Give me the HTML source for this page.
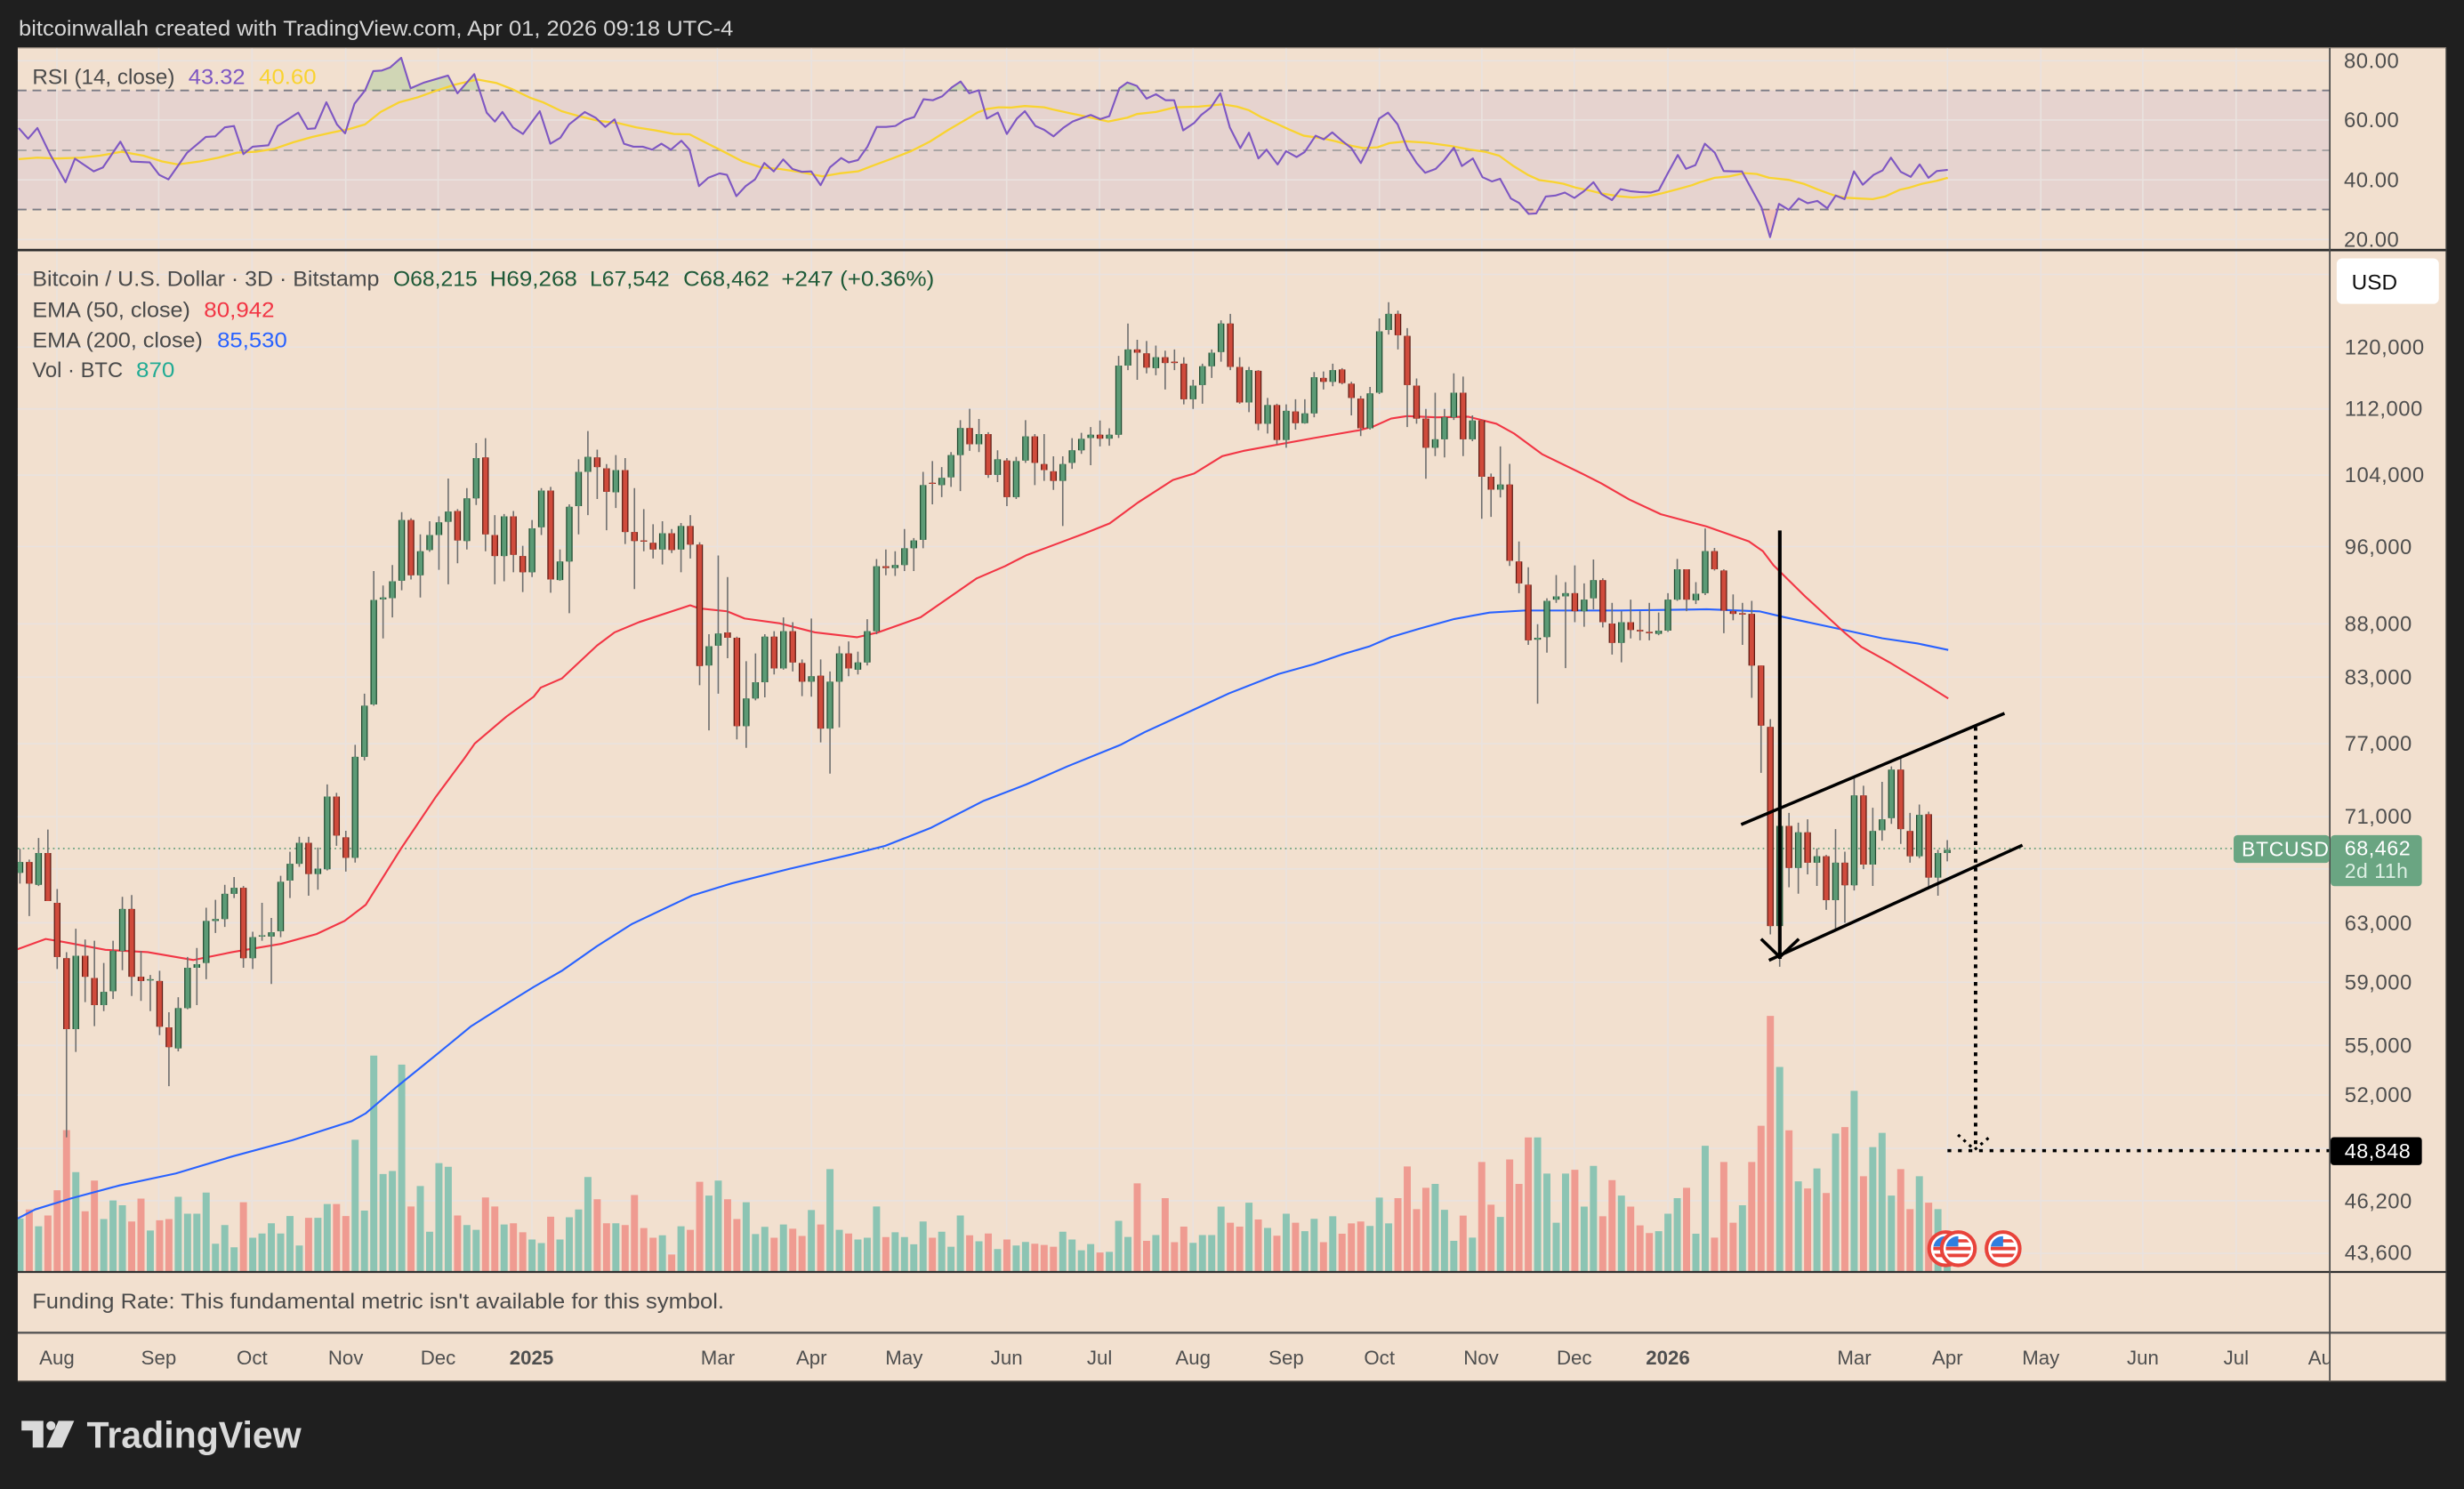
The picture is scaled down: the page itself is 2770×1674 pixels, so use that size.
<!DOCTYPE html>
<html>
<head>
<meta charset="utf-8">
<style>
html,body{margin:0;padding:0;background:#1f1f1f;overflow:hidden;}
svg{display:block;}
</style>
</head>
<body>
<svg width="2770" height="1674" viewBox="0 0 1568 948" preserveAspectRatio="none" xmlns="http://www.w3.org/2000/svg" style="font-family:'Liberation Sans',Arial,sans-serif;">
<defs>
  <clipPath id="pp"><rect x="11.3" y="159.8" width="1471.3" height="649.7"/></clipPath>
  <clipPath id="rp"><rect x="11.3" y="30.5" width="1471.3" height="128.5"/></clipPath>
  <clipPath id="ob"><rect x="11.3" y="30.5" width="1471.3" height="27.1"/></clipPath>
  <clipPath id="os"><rect x="11.3" y="133.4" width="1471.3" height="25.6"/></clipPath>
  <clipPath id="ta"><rect x="11.3" y="849" width="1471.3" height="30"/></clipPath>
  <clipPath id="fc"><circle cx="0" cy="0" r="8"/></clipPath>
  <symbol id="flag" overflow="visible">
    <circle cx="0" cy="0" r="10.6" fill="#ffffff" stroke="#e8433b" stroke-width="2.3"/>
    <g clip-path="url(#fc)">
      <rect x="-8" y="-8" width="16" height="16" fill="#ffffff"/>
      <rect x="-8" y="-1.2" width="16" height="2.2" fill="#e8433b"/>
      <rect x="-8" y="3.2" width="16" height="2.2" fill="#e8433b"/>
      <rect x="-8" y="-6" width="16" height="2" fill="#e8433b"/>
      <rect x="-8" y="-8" width="8" height="6.6" fill="#2f7fe0"/>
    </g>
  </symbol>
</defs>

<rect x="0" y="0" width="1568" height="948" fill="#1f1f1f"/>
<text x="11.9" y="22.7" font-size="13.5" fill="#d6d6d6" textLength="454.7" lengthAdjust="spacingAndGlyphs">bitcoinwallah created with TradingView.com, Apr 01, 2026 09:18 UTC-4</text>

<rect x="11.3" y="30.2" width="1545.4" height="849.1" fill="#f2e0cf"/>
<line x1="11.3" y1="30.4" x2="1556.7" y2="30.4" stroke="#8a7f74" stroke-width="0.8"/>

<rect x="11.3" y="57.6" width="1471.3" height="75.8" fill="#e6d3cf"/>

<!-- grid -->
<g stroke="#e9e2df" stroke-width="0.9">
  <line x1="36.2" y1="30.8" x2="36.2" y2="809.2"/>
  <line x1="101" y1="30.8" x2="101" y2="809.2"/>
  <line x1="160.4" y1="30.8" x2="160.4" y2="809.2"/>
  <line x1="220" y1="30.8" x2="220" y2="809.2"/>
  <line x1="278.8" y1="30.8" x2="278.8" y2="809.2"/>
  <line x1="338.5" y1="30.8" x2="338.5" y2="809.2"/>
  <line x1="456.5" y1="30.8" x2="456.5" y2="809.2"/>
  <line x1="516.4" y1="30.8" x2="516.4" y2="809.2"/>
  <line x1="575.3" y1="30.8" x2="575.3" y2="809.2"/>
  <line x1="640.6" y1="30.8" x2="640.6" y2="809.2"/>
  <line x1="699.7" y1="30.8" x2="699.7" y2="809.2"/>
  <line x1="759.2" y1="30.8" x2="759.2" y2="809.2"/>
  <line x1="818.5" y1="30.8" x2="818.5" y2="809.2"/>
  <line x1="877.8" y1="30.8" x2="877.8" y2="809.2"/>
  <line x1="943" y1="30.8" x2="943" y2="809.2"/>
  <line x1="1001.8" y1="30.8" x2="1001.8" y2="809.2"/>
  <line x1="1061.4" y1="30.8" x2="1061.4" y2="809.2"/>
  <line x1="1180" y1="30.8" x2="1180" y2="809.2"/>
  <line x1="1239.3" y1="30.8" x2="1239.3" y2="809.2"/>
  <line x1="1298.7" y1="30.8" x2="1298.7" y2="809.2"/>
  <line x1="1363.6" y1="30.8" x2="1363.6" y2="809.2"/>
  <line x1="1423" y1="30.8" x2="1423" y2="809.2"/>
  <line x1="11.3" y1="38.7" x2="1482.6" y2="38.7"/>
  <line x1="11.3" y1="76.4" x2="1482.6" y2="76.4"/>
  <line x1="11.3" y1="114.5" x2="1482.6" y2="114.5"/>
  <line x1="11.3" y1="152.5" x2="1482.6" y2="152.5"/>
  <line x1="11.3" y1="174.7" x2="1482.6" y2="174.7"/>
  <line x1="11.3" y1="221" x2="1482.6" y2="221"/>
  <line x1="11.3" y1="260.3" x2="1482.6" y2="260.3"/>
  <line x1="11.3" y1="302.5" x2="1482.6" y2="302.5"/>
  <line x1="11.3" y1="348" x2="1482.6" y2="348"/>
  <line x1="11.3" y1="397.2" x2="1482.6" y2="397.2"/>
  <line x1="11.3" y1="431.1" x2="1482.6" y2="431.1"/>
  <line x1="11.3" y1="473.5" x2="1482.6" y2="473.5"/>
  <line x1="11.3" y1="520" x2="1482.6" y2="520"/>
  <line x1="11.3" y1="553.2" x2="1482.6" y2="553.2"/>
  <line x1="11.3" y1="587.5" x2="1482.6" y2="587.5"/>
  <line x1="11.3" y1="625.4" x2="1482.6" y2="625.4"/>
  <line x1="11.3" y1="665.6" x2="1482.6" y2="665.6"/>
  <line x1="11.3" y1="697.2" x2="1482.6" y2="697.2"/>
  <line x1="11.3" y1="731.2" x2="1482.6" y2="731.2"/>
  <line x1="11.3" y1="764.5" x2="1482.6" y2="764.5"/>
  <line x1="11.3" y1="798" x2="1482.6" y2="798"/>
</g>

<line x1="11.3" y1="57.6" x2="1482.6" y2="57.6" stroke="#7b7b85" stroke-width="1.1" stroke-dasharray="5.6 3.8"/>
<line x1="11.3" y1="95.7" x2="1482.6" y2="95.7" stroke="#a9a5a5" stroke-width="1.1" stroke-dasharray="5.6 3.8"/>
<line x1="11.3" y1="133.4" x2="1482.6" y2="133.4" stroke="#7b7b85" stroke-width="1.1" stroke-dasharray="5.6 3.8"/>

<g clip-path="url(#rp)">
  <g clip-path="url(#ob)" fill="rgba(76,175,80,0.2)">
    <polygon points="225.6,66 232.3,57.6 237.5,45.3 243,44.9 248.2,43 255.3,36.8 261.3,56.2 270,52.5 285.1,48.1 291.1,59.4 301.8,47.2 309.7,71.7 309.7,57.6 225.6,57.6"/>
    <polygon points="599.6,61.3 605.6,55.7 611.3,51.9 616.8,59.4 622.8,57.5 628,75.5 628,57.6 599.6,57.6"/>
    <polygon points="705.9,74 712.3,56.2 717.4,52.5 723.5,54.7 729.6,62.8 729.6,57.6 705.9,57.6"/>
  </g>
  <g clip-path="url(#os)" fill="rgba(242,54,69,0.16)">
    <polygon points="1108.5,109.1 1121,132.1 1126.4,151 1132.1,129.8 1138.3,133.6 1144.6,126.4 1144.6,133.4 1108.5,133.4"/>
    <polygon points="966.7,129.2 972.8,136.2 977.6,135.9 983.7,125.1 983.7,133.4 966.7,133.4"/>
  </g>
  <polyline fill="none" stroke="#f9d330" stroke-width="1.3" stroke-linejoin="round" points="11.9,101.3 23.8,100.4 35.7,100.9 51.6,100.4 63.5,99.1 77.4,96.6 91.3,99.1 103.2,102.8 113.2,104.7 127.1,102.8 139,100.4 150.9,97.2 162.8,96.6 174.7,94.7 186.6,90.6 198.6,87.2 210.5,84.5 222.4,82.1 232.3,79.2 242.2,71.3 254.1,65.1 266,61.9 278,57.6 289.9,53.8 303.8,50.6 315.7,52.8 325.6,56.6 337.5,62.3 345.5,65.1 357.4,70.8 369.3,74.2 381.2,77 393.1,78.3 405,81.1 417,83 428.9,85.3 438.8,85.5 448.7,90.6 460.6,96.6 472.5,102.8 484.5,106.6 496.4,107.6 508.3,109.4 523.4,112.3 534.1,110.4 546,109.1 555.9,105.3 567.8,100.9 579.8,96.2 591.7,90.2 603.6,82.6 615.8,75.5 621.9,71.7 628,69.4 635.6,68.3 643.1,68.5 652.2,67.5 664.4,68.3 670.4,69.8 681.1,72.1 690.1,74 699.2,76 705.3,77.4 717.4,74.9 723.5,72.6 735.6,71.3 747.8,68.3 762.9,67.9 778.1,66.4 787.2,67.9 794.8,70.2 802.4,74.5 811.4,78.3 820.5,82.5 829.6,86.4 841.8,88.1 850.9,90.2 860,92.8 867.5,94.3 876.6,93.8 884.2,91.1 894.8,90 908.5,90.9 923.7,93 935.8,95.3 944.9,96.6 954,99.1 963.1,105.7 972.2,111.3 979.7,114.7 987.3,115.7 994.9,117 1002.5,119.4 1011.6,121.3 1019.2,123.2 1029.8,124.9 1038.9,125.7 1048,125.1 1057.1,123.2 1067.7,120.4 1076.8,117.9 1081.8,116 1091.2,113.2 1100.6,112.3 1110.1,110.2 1117.9,110.8 1125.8,113.2 1138.3,114.5 1147.7,117 1157.2,120.8 1166.6,124.2 1174.4,125.9 1183.9,126.4 1191.7,126.8 1199.6,125.1 1209,120.8 1215.3,119.4 1223.1,117 1232.5,115.1 1239.5,113.2"/>
  <polyline fill="none" stroke="#7e57c2" stroke-width="1.2" stroke-linejoin="round" points="11.9,81.5 17.9,88.3 23.8,81.5 31.8,98.1 41.7,116 47.7,101 59.6,109.1 65.5,106.6 76.6,90.2 83.4,102.8 95.3,103.4 101.3,111.3 107.2,114.2 119.1,97.2 131,87.2 137,86.8 143,81.1 148.9,80.2 154.9,98.1 160.8,93.4 170.8,92.5 176.7,80.2 189.8,71.7 195.8,82.1 200.5,81.7 207.7,65.1 214.4,79.2 219.6,84.9 225.6,66 232.3,57.6 237.5,45.3 243,44.9 248.2,43 255.3,36.8 261.3,56.2 270,52.5 285.1,48.1 291.1,59.4 301.8,47.2 309.7,71.7 314.9,77.4 319.7,71.3 326.4,81.1 332.8,85.3 343.5,70.8 350.2,91.5 356.6,87.7 362.2,79.2 372.1,71.3 379.2,75.1 385.2,80.8 391.1,76 397.1,91.5 403.1,93.4 409,93.4 415,95.3 420.9,91.5 426.9,95.3 433.6,89.6 438.8,95.3 444.8,118.5 450.7,113.2 457.9,110.4 462.6,111.3 468.6,124.9 474.5,118.5 480.5,114.2 486.4,103.8 492.4,109.1 498.4,101.5 504.3,107.6 510.3,109.4 516.2,109.1 522.2,117.9 528.1,106.6 535.3,100.6 540.1,103.4 546,101.9 552,93.4 557.9,80.8 563.9,80.8 569.8,80.2 575.8,76.4 581.8,74.5 587.7,63.2 593.7,63.8 599.6,61.3 605.6,55.7 611.3,51.9 616.8,59.4 622.8,57.5 628,75.5 635,71.7 640.7,85.3 647.1,75.5 652.2,70.8 658.9,80.2 664.4,82.6 670.4,86.8 676.5,81.5 682.6,77.4 688.6,75.1 694.1,73.2 700.2,75.8 705.9,74 712.3,56.2 717.4,52.5 723.5,54.7 729.6,62.8 735.6,60 741.7,63.8 747.2,63.8 752.9,83 759.9,78.3 764.4,73.2 770.5,68.5 776.6,59.4 782.6,81.1 789.3,94.3 794.8,84.5 800.8,100.9 806,95.3 813,104.7 818.4,96.2 825.1,100 830.2,96.8 837.2,86.4 842.4,88.7 847.8,84.3 853.9,89.6 860,94.3 866,103.8 871.5,92.5 877.6,75.5 883.3,71.7 889.4,79.2 895.5,94.3 901.5,103.8 906.9,110 913.6,107.5 919.1,101.9 925.2,94 930.3,105.7 937.3,100.9 943.4,112.8 949.4,115.5 954.6,113.8 961.5,126.4 966.7,129.2 972.8,136.2 977.6,135.9 983.7,125.1 989.8,124.5 995.8,122.6 1001.9,126 1008,121.7 1014,116 1019.2,123.6 1025.8,127.4 1031.3,120.4 1037.4,121.7 1043.4,122.3 1050.4,122.6 1055.6,121.1 1061.6,109.8 1067.7,98.7 1072.9,107.5 1078.9,105.1 1084.9,91.5 1091.2,97.2 1096.9,108.9 1103.8,109.1 1108.5,109.1 1121,132.1 1126.4,151 1132.1,129.8 1138.3,133.6 1144.6,126.4 1150.3,129.4 1156.5,127.9 1162.8,132.6 1168.2,124.5 1173.8,126.8 1179.8,109.1 1185.4,117.6 1192.3,111.3 1198,108.5 1203.3,100.4 1209.6,109.4 1215.9,112.6 1221.6,104.7 1227.2,113.2 1232.5,108.9 1239.5,108.1"/>
</g>

<text x="20.6" y="53.4" font-size="13.5" fill="#4a4a4a" textLength="90.6" lengthAdjust="spacingAndGlyphs">RSI (14, close)</text>
<text x="119.9" y="53.4" font-size="13.5" fill="#7e57c2" textLength="36.1" lengthAdjust="spacingAndGlyphs">43.32</text>
<text x="164.8" y="53.4" font-size="13.5" fill="#f9d330" textLength="36.5" lengthAdjust="spacingAndGlyphs">40.60</text>

<line x1="11.3" y1="159.2" x2="1556.7" y2="159.2" stroke="#2c2c2c" stroke-width="1.6"/>

<!-- price pane -->
<g clip-path="url(#pp)">
  <!-- volume A -->
  <g transform="translate(6.775,215.1) scale(5.925,0.3827)" fill="none" stroke-width="0.76">
    <path stroke="#8cc4b3" d="M1 1553V1465M3 1553V1478M7 1553V1388M10 1553V1466M11 1553V1435M12 1553V1443M15 1553V1485M18 1553V1429M19 1553V1457M20 1553V1457M21 1553V1422M22 1553V1507M23 1553V1476M24 1553V1513M26 1553V1497M27 1553V1490M28 1553V1473M29 1553V1490M30 1553V1461M31 1553V1510M33 1553V1464M34 1553V1441M37 1553V1334M38 1553V1452M39 1553V1194M40 1553V1391M41 1553V1386M42 1553V1209M44 1553V1411M45 1553V1487M46 1553V1373M47 1553V1379M49 1553V1476M50 1553V1484M53 1553V1475M56 1553V1500M57 1553V1506M59 1553V1500M60 1553V1463M61 1553V1450M62 1553V1396M65 1553V1473M70 1553V1493M72 1553V1478M75 1553V1427M76 1553V1402M79 1553V1438M80 1553V1491M81 1553V1479M83 1553V1475M86 1553V1451M88 1553V1383M89 1553V1484M91 1553V1500M92 1553V1497M93 1553V1445M95 1553V1488M96 1553V1496M97 1553V1508M98 1553V1470M100 1553V1487M101 1553V1512M102 1553V1460M104 1553V1503M106 1553V1516M108 1553V1510M109 1553V1504M113 1553V1487M114 1553V1500M115 1553V1518"/>
    <path stroke="#ef9b91" d="M2 1553V1450M4 1553V1460M5 1553V1418M6 1553V1318M8 1553V1453M9 1553V1402M13 1553V1470M14 1553V1432M16 1553V1468M17 1553V1466M25 1553V1438M32 1553V1464M35 1553V1441M36 1553V1461M43 1553V1445M48 1553V1460M51 1553V1430M52 1553V1445M54 1553V1473M55 1553V1488M58 1553V1462M63 1553V1433M64 1553V1473M66 1553V1476M67 1553V1426M68 1553V1481M69 1553V1497M71 1553V1525M73 1553V1484M74 1553V1404M77 1553V1433M78 1553V1466M82 1553V1497M84 1553V1482M85 1553V1494M87 1553V1475M90 1553V1490M94 1553V1496M99 1553V1497M103 1553V1493M105 1553V1490M107 1553V1500M110 1553V1507M111 1553V1509M112 1553V1512"/>
  </g>
  <!-- volume B -->
  <g transform="translate(6.775,169.8) scale(5.925,0.41155)" fill="none" stroke-width="0.76">
    <path stroke="#8cc4b3" d="M116 1554V1512M118 1554V1524M119 1554V1476M120 1554V1501M123 1554V1498M127 1554V1510M128 1554V1498M129 1554V1498M130 1554V1454M133 1554V1448M135 1554V1487M137 1554V1465M139 1554V1492M140 1554V1473M142 1554V1469M146 1554V1484M147 1554V1440M148 1554V1480M153 1554V1419M154 1554V1459M155 1554V1507M157 1554V1502M160 1554V1470M164 1554V1347M165 1554V1403M166 1554V1479M167 1554V1403M169 1554V1454M170 1554V1391M173 1554V1437M177 1554V1492M178 1554V1465M179 1554V1441M181 1554V1496M182 1554V1360M186 1554V1452M190 1554V1238M192 1554V1415M194 1554V1395M196 1554V1341M198 1554V1275M200 1554V1362M201 1554V1340M202 1554V1437M205 1554V1407M207 1554V1458M208 1554V1500"/>
    <path stroke="#ef9b91" d="M117 1554V1525M121 1554V1418M122 1554V1507M124 1554V1441M125 1554V1509M126 1554V1485M131 1554V1479M132 1554V1485M134 1554V1474M136 1554V1499M138 1554V1479M141 1554V1509M143 1554V1496M144 1554V1480M145 1554V1477M149 1554V1441M150 1554V1392M151 1554V1458M152 1554V1425M156 1554V1468M158 1554V1385M159 1554V1451M161 1554V1381M162 1554V1419M163 1554V1347M168 1554V1397M171 1554V1469M172 1554V1413M174 1554V1454M175 1554V1483M176 1554V1495M180 1554V1425M183 1554V1502M184 1554V1385M185 1554V1479M187 1554V1385M188 1554V1329M189 1554V1159M191 1554V1336M193 1554V1426M195 1554V1433M197 1554V1331M199 1554V1407M203 1554V1396M204 1554V1458M206 1554V1448"/>
  </g>

  <line x1="11.3" y1="540.2" x2="1421" y2="540.2" stroke="#5c9c77" stroke-width="0.9" stroke-dasharray="1 2.2"/>
  <polyline fill="none" stroke="#2962ff" stroke-width="1.2" stroke-linejoin="round" points="11.2,775.8 22.4,770 44.8,763.1 76.1,754.7 111.9,747.1 147.7,736.3 185.8,726 223.8,713.8 232.8,708.8 252.9,691.6 277.5,671.7 299.9,653.3 322.3,639.1 339.6,628.4 357.5,618.1 379.9,602.4 402.3,588.2 440.3,570.2 464.9,562.6 503,553 541,544.2 563.4,538.5 592.5,527 626.1,509.8 652.9,499.5 679.3,487.9 712.9,474.3 728.5,466.1 759.9,451.7 782.2,441.4 813.6,429.1 836,422.9 853.9,416.7 871.8,411.4 885.2,405.6 903.1,400.3 925.5,394.1 947.9,390 970.2,388.7 1030.2,388.7 1086,387.9 1119.6,389.2 1135.3,392.9 1175.6,401.5 1197.9,406.4 1220.3,409.7 1239.8,413.8"/>
  <polyline fill="none" stroke="#f23645" stroke-width="1.2" stroke-linejoin="round" points="11.2,604.3 29.1,597.8 40.3,599.7 67.1,604.7 94,606.2 123.1,611.2 147.7,606.2 179,600.9 201.4,594.7 219.3,586.3 232.8,576 255.1,540.4 277.5,507.1 295.4,483 302.1,473.4 322.3,456.2 339.6,443.6 344.1,437.8 357.5,432 379.9,411 391.1,402.6 406.7,396.1 439.2,385.4 444.8,387.3 462.7,389.2 473.9,393.8 496.3,396.9 518.6,402.6 545.5,405.7 558.9,402.6 585.8,393 621.6,368.2 639.5,360.5 652.9,353.6 675.3,345.2 690.5,339.5 706.2,333.2 724.1,320 746.4,305.6 759.9,301.5 777.8,290.4 791.2,287.1 813.6,283 836,278.9 865.1,273.9 874,271.5 885.2,266.5 895.3,264.9 914.3,265.7 934.4,265.3 952.3,269.8 963.5,276 981.4,289.2 1008.3,302.3 1018.9,307.7 1036.8,318 1056.9,327.4 1086,335.2 1112.9,344.7 1121.8,350.9 1128.6,359.9 1148.7,379.7 1173.3,402.3 1184.5,411.8 1202.4,421.7 1224.8,435.3 1239.8,444.7"/>

  <!-- candles A -->
  <g transform="translate(6.775,215.1) scale(5.925,0.3827)" fill="none">
    <path stroke="#6e6e6e" stroke-width="0.152" d="M1 850V908M2 868V962M3 832V912M4 818V937M5 917V1050M6 1022V1330M7 983V1188M8 1001V1105M9 1003V1145M10 1040V1120M11 1003V1100M12 930V1052M13 927V1095M14 1020V1103M15 1060V1120M16 1053V1160M17 1122V1245M18 1097V1187M19 1030V1117M20 1015V1110M21 948V1067M22 935V990M23 910V980M24 897V932M25 912V1048M26 988V1050M27 940V1003M28 965V1075M29 895V997M30 855V932M31 830V880M32 830V928M33 848V918M34 743V886M35 757V845M36 820V888M37 677V873M38 592V703M39 388V612M40 412V500M41 378V465M42 290V420M43 300V402M44 327V432M45 305V356M46 297V386M47 234V410M48 285V375M49 250V352M50 175V278M51 167V355M52 295V410M53 293V405M54 288V390M55 346V423M56 303V398M57 250V328M58 248V424M59 352V404M60 277V458M61 202V327M62 155V295M63 186V268M64 210V320M65 195V283M66 200V343M67 250V418M68 285V355M69 310V367M70 305V377M71 318V358M72 308V390M73 295V367M74 340V578M75 493V653M76 362V592M77 398V533M78 497V668M79 538V682M80 525V603M81 493V598M82 488V560M83 465V552M84 473V555M85 535V596M86 467V597M87 535V673M88 555V725M89 513V648M90 505V563M91 522V560M92 468V545M93 368V493M94 352V395M95 355V396M96 318V388M97 333V388M98 223V350M99 205V277M100 215V265M101 190V248M102 137V255M103 118V188M104 135V190M105 157V233M106 187V240M107 200V280M108 198V268M109 137V208M110 160V245M111 160V238M112 197V253M113 197V313M114 167V218M115 158V193"/>
    <path stroke="#1f4b31" stroke-width="0.709" d="M1 872V890M3 857V910M7 1028V1150M10 1088V1110M11 1020V1087M12 950V1020M15 1067V1069M18 1115V1182M19 1048V1115M20 1042V1048M21 970V1040M22 967V970M23 925V967M24 915V925M26 997V1032M27 994V996M28 989V996M29 905V987M30 875V903M31 840V875M33 883V892M34 763V884M37 697V865M38 612V697M39 436V610M40 432V435M41 405V433M42 303V404M44 355V395M45 328V353M46 307V328M47 289V306M49 267V338M50 200V267M53 297V363M56 317V390M57 254V315M59 372V403M60 281V372M61 223V280M62 198V223M65 220V257M70 325V352M72 313V352M75 513V545M76 492V512M79 600V646M80 573V600M81 497V573M83 488V550M86 563V572M88 572V650M89 525V572M91 540V552M92 488V540M93 380V488M95 378V383M96 350V378M97 337V350M98 245V336M100 233V245M101 195V232M102 150V195M104 160V177M106 202V228M108 205V265M109 164V204M113 210V238M114 187V208M115 168V187"/>
    <path stroke="#5c9b76" stroke-width="0.472" d="M1 872V890M3 857V910M7 1028V1150M10 1088V1110M11 1020V1087M12 950V1020M15 1067V1069M18 1115V1182M19 1048V1115M20 1042V1048M21 970V1040M22 967V970M23 925V967M24 915V925M26 997V1032M27 994V996M28 989V996M29 905V987M30 875V903M31 840V875M33 883V892M34 763V884M37 697V865M38 612V697M39 436V610M40 432V435M41 405V433M42 303V404M44 355V395M45 328V353M46 307V328M47 289V306M49 267V338M50 200V267M53 297V363M56 317V390M57 254V315M59 372V403M60 281V372M61 223V280M62 198V223M65 220V257M70 325V352M72 313V352M75 513V545M76 492V512M79 600V646M80 573V600M81 497V573M83 488V550M86 563V572M88 572V650M89 525V572M91 540V552M92 488V540M93 380V488M95 378V383M96 350V378M97 337V350M98 245V336M100 233V245M101 195V232M102 150V195M104 160V177M106 202V228M108 205V265M109 164V204M113 210V238M114 187V208M115 168V187"/>
    <path stroke="#5c1a13" stroke-width="0.709" d="M2 872V908M4 857V937M5 940V1030M6 1032V1150M8 1028V1063M9 1065V1110M13 950V1063M14 1063V1070M16 1070V1146M17 1147V1180M25 915V1032M32 840V892M35 763V828M36 831V865M43 303V395M48 288V337M51 199V327M52 328V363M54 297V361M55 363V390M58 254V402M63 199V215M64 217V256M66 220V323M67 323V338M68 337V339M69 341V352M71 325V353M73 313V344M74 344V546M77 490V499M78 499V646M82 497V550M84 488V540M85 541V572M87 562V650M90 525V550M94 380V383M99 241V243M103 150V177M105 160V228M107 204V265M110 164V208M111 210V220M112 222V238"/>
    <path stroke="#d04b3c" stroke-width="0.472" d="M2 872V908M4 857V937M5 940V1030M6 1032V1150M8 1028V1063M9 1065V1110M13 950V1063M14 1063V1070M16 1070V1146M17 1147V1180M25 915V1032M32 840V892M35 763V828M36 831V865M43 303V395M48 288V337M51 199V327M52 328V363M54 297V361M55 363V390M58 254V402M63 199V215M64 217V256M66 220V323M67 323V338M68 337V339M69 341V352M71 325V353M73 313V344M74 344V546M77 490V499M78 499V646M82 497V550M84 488V540M85 541V572M87 562V650M90 525V550M94 380V383M99 241V243M103 150V177M105 160V228M107 204V265M110 164V208M111 210V220M112 222V238"/>
  </g>
  <!-- candles B -->
  <g transform="translate(6.775,169.8) scale(5.925,0.41155)" fill="none">
    <path stroke="#6e6e6e" stroke-width="0.152" d="M116 248V307M117 238V278M118 250V277M119 138V265M120 88V160M121 113V175M122 115V165M123 122V168M124 130V190M125 128V160M126 140V213M127 175V220M128 150V212M129 128V172M130 83V147M131 73V160M132 140V212M133 155V225M134 160V253M135 203V258M136 212V275M137 213V280M138 205V252M139 205V243M140 163V233M141 162V190M142 150V185M143 157V182M144 178V230M145 200V262M146 186V252M147 80V197M148 55V105M149 68V128M150 95V248M151 173V243M152 220V328M153 195V293M154 220V295M155 165V237M156 170V293M157 230V270M158 237V390M159 320V387M160 278V357M161 305V463M162 425V505M163 465V585M164 553V676M165 513V597M166 477V520M167 488V621M168 462V550M169 490V557M170 453V530M171 482V558M172 520V600M173 533V612M174 515V575M175 533V578M176 520V578M177 535V570M178 505V565M179 452V517M180 468V533M181 488V522M182 405V508M183 435V470M184 468V567M185 507V547M186 520V585M187 517V667M188 617V783M189 700V1033M190 828V1083M191 845V960M192 860V970M193 855V940M194 900V958M195 910V995M196 870V1027M197 905V1015M198 790V965M199 803V932M200 837V958M201 797V888M202 773V862M203 757V893M204 845V922M205 832V915M206 843V963M207 902V973M208 887V920"/>
    <path stroke="#1f4b31" stroke-width="0.709" d="M116 260V265M118 260V266M119 153V260M120 128V153M123 140V157M127 184V205M128 154V183M129 133V154M130 88V132M133 160V210M135 214V243M137 223V268M139 227V242M140 171V227M142 160V178M146 196V250M147 100V195M148 73V98M153 267V280M154 233V267M155 195V233M157 238V267M160 337V345M164 574V577M165 517V573M166 510V515M167 505V510M169 515V533M170 485V513M173 550V582M177 563V568M178 515V563M179 468V515M181 506V516M182 440V505M190 865V1020M192 875V930M194 912V922M196 922V980M198 818V957M200 873V925M201 855V872M202 778V853M205 848V912M207 907V945M208 902V907"/>
    <path stroke="#5c9b76" stroke-width="0.472" d="M116 260V265M118 260V266M119 153V260M120 128V153M123 140V157M127 184V205M128 154V183M129 133V154M130 88V132M133 160V210M135 214V243M137 223V268M139 227V242M140 171V227M142 160V178M146 196V250M147 100V195M148 73V98M153 267V280M154 233V267M155 195V233M157 238V267M160 337V345M164 574V577M165 517V573M166 510V515M167 505V510M169 515V533M170 485V513M173 550V582M177 563V568M178 515V563M179 468V515M181 506V516M182 440V505M190 865V1020M192 875V930M194 912V922M196 922V980M198 818V957M200 873V925M201 855V872M202 778V853M205 848V912M207 907V945M208 902V907"/>
    <path stroke="#5c1a13" stroke-width="0.709" d="M117 260V266M121 128V133M122 134V156M124 140V149M125 147V149M126 150V205M131 88V155M132 155V210M134 161V243M136 214V268M138 224V242M141 172V178M143 159V180M144 181V203M145 204V250M149 73V106M150 107V183M151 184V235M152 235V280M156 195V267M158 238V325M159 325V345M161 337V455M162 456V490M163 492V578M168 505V533M171 485V550M172 552V582M174 550V562M175 562V564M176 565V567M180 468V515M183 440V468M184 470V532M185 533V537M186 536V538M187 537V617M188 617V710M189 712V1020M191 865V930M193 875V922M195 912V980M197 922V957M199 818V925M203 778V870M204 873V912M206 847V945"/>
    <path stroke="#d04b3c" stroke-width="0.472" d="M117 260V266M121 128V133M122 134V156M124 140V149M125 147V149M126 150V205M131 88V155M132 155V210M134 161V243M136 214V268M138 224V242M141 172V178M143 159V180M144 181V203M145 204V250M149 73V106M150 107V183M151 184V235M152 235V280M156 195V267M158 238V325M159 325V345M161 337V455M162 456V490M163 492V578M168 505V533M171 485V550M172 552V582M174 550V562M175 562V564M176 565V567M180 468V515M183 440V468M184 470V532M185 533V537M186 536V538M187 537V617M188 617V710M189 712V1020M191 865V930M193 875V922M195 912V980M197 922V957M199 818V925M203 778V870M204 873V912M206 847V945"/>
  </g>

  <!-- drawings -->
  <line x1="1132.6" y1="337.7" x2="1132.6" y2="610.5" stroke="#000" stroke-width="2.3"/>
  <line x1="1108" y1="525" x2="1275.6" y2="454.2" stroke="#000" stroke-width="2"/>
  <line x1="1125.7" y1="611.4" x2="1287" y2="538.1" stroke="#000" stroke-width="2"/>
  <polyline points="1120.7,597.8 1132.6,609.3 1144.7,597.8" fill="none" stroke="#000" stroke-width="2"/>
  <line x1="1257.2" y1="462.8" x2="1257.2" y2="731.6" stroke="#000" stroke-width="2.2" stroke-dasharray="2.4 3.2"/>
  <line x1="1239.3" y1="732.6" x2="1482.6" y2="732.6" stroke="#000" stroke-width="2" stroke-dasharray="2.4 4.3"/>
  <polyline points="1246,722.5 1256.5,732 1266,724" fill="none" stroke="#000" stroke-width="1.8" stroke-dasharray="1.8 3"/>
  <use href="#flag" x="1238.2" y="795"/>
  <use href="#flag" x="1246.2" y="795"/>
  <use href="#flag" x="1274.7" y="795"/>
</g>

<text x="20.6" y="182.1" font-size="13.5" fill="#4a4a4a" textLength="220.8" lengthAdjust="spacingAndGlyphs">Bitcoin / U.S. Dollar · 3D · Bitstamp</text>
<g font-size="13.5" fill="#1f5a38">
  <text x="250.2" y="182.1" textLength="53.6" lengthAdjust="spacingAndGlyphs">O68,215</text>
  <text x="311.7" y="182.1" textLength="55.6" lengthAdjust="spacingAndGlyphs">H69,268</text>
  <text x="375.3" y="182.1" textLength="50.8" lengthAdjust="spacingAndGlyphs">L67,542</text>
  <text x="434.8" y="182.1" textLength="54.8" lengthAdjust="spacingAndGlyphs">C68,462</text>
  <text x="497.2" y="182.1" textLength="97.3" lengthAdjust="spacingAndGlyphs">+247 (+0.36%)</text>
</g>
<text x="20.6" y="201.9" font-size="13.5" fill="#4a4a4a" textLength="100.5" lengthAdjust="spacingAndGlyphs">EMA (50, close)</text>
<text x="129.8" y="201.9" font-size="13.5" fill="#f23645" textLength="44.9" lengthAdjust="spacingAndGlyphs">80,942</text>
<text x="20.6" y="221.1" font-size="13.5" fill="#4a4a4a" textLength="108.4" lengthAdjust="spacingAndGlyphs">EMA (200, close)</text>
<text x="138.2" y="221.1" font-size="13.5" fill="#2962ff" textLength="44.5" lengthAdjust="spacingAndGlyphs">85,530</text>
<text x="20.6" y="240.2" font-size="13.5" fill="#4a4a4a" textLength="57.6" lengthAdjust="spacingAndGlyphs">Vol · BTC</text>
<text x="86.6" y="240.2" font-size="13.5" fill="#22ab94" textLength="24.6" lengthAdjust="spacingAndGlyphs">870</text>

<line x1="11.3" y1="809.8" x2="1556.7" y2="809.8" stroke="#303030" stroke-width="1.3"/>
<line x1="11.3" y1="848.5" x2="1556.7" y2="848.5" stroke="#555" stroke-width="1.3"/>
<text x="20.5" y="833" font-size="13.5" fill="#4a4a4a" textLength="440.3" lengthAdjust="spacingAndGlyphs">Funding Rate: This fundamental metric isn't available for this symbol.</text>

<line x1="1482.6" y1="30.4" x2="1482.6" y2="879.3" stroke="#4a4a4a" stroke-width="1"/>
<g font-size="13.5" fill="#4f4f4f" letter-spacing="0.3">
  <text x="1491.6" y="43.4">80.00</text>
  <text x="1491.6" y="81.1">60.00</text>
  <text x="1491.6" y="119.2">40.00</text>
  <text x="1491.6" y="157.2">20.00</text>
  <text x="1492" y="225.7">120,000</text>
  <text x="1492" y="264.7">112,000</text>
  <text x="1492" y="306.9">104,000</text>
  <text x="1492" y="352.7">96,000</text>
  <text x="1492" y="401.8">88,000</text>
  <text x="1492" y="435.8">83,000</text>
  <text x="1492" y="478.1">77,000</text>
  <text x="1492" y="524.3">71,000</text>
  <text x="1492" y="592.3">63,000</text>
  <text x="1492" y="630.1">59,000</text>
  <text x="1492" y="670.2">55,000</text>
  <text x="1492" y="701.6">52,000</text>
  <text x="1492" y="769.2">46,200</text>
  <text x="1492" y="802.2">43,600</text>
</g>
<rect x="1487" y="164.5" width="65" height="29" rx="3.5" fill="#ffffff"/>
<text x="1496.5" y="184.2" font-size="13.8" fill="#111">USD</text>

<rect x="1421.4" y="531.7" width="61" height="17.7" rx="2.5" fill="#6aa582"/>
<text x="1426.5" y="545" font-size="13" fill="#ffffff" letter-spacing="0.4">BTCUSD</text>
<rect x="1483.1" y="531.7" width="58.1" height="32.5" rx="2.5" fill="#6aa582"/>
<text x="1492" y="544.4" font-size="13.2" fill="#ffffff" letter-spacing="0.3">68,462</text>
<text x="1492" y="559" font-size="13" fill="#dcefe3" letter-spacing="0.3">2d 11h</text>
<rect x="1483.1" y="724" width="58.1" height="17.8" rx="2" fill="#000000"/>
<text x="1492" y="737.2" font-size="13.2" fill="#ffffff" letter-spacing="0.3">48,848</text>

<g font-size="12.6" fill="#4f4f4f" text-anchor="middle" clip-path="url(#ta)">
  <text x="36.2" y="868.7">Aug</text>
  <text x="101" y="868.7">Sep</text>
  <text x="160.4" y="868.7">Oct</text>
  <text x="220" y="868.7">Nov</text>
  <text x="278.8" y="868.7">Dec</text>
  <text x="338.2" y="868.7" font-weight="bold">2025</text>
  <text x="456.8" y="868.7">Mar</text>
  <text x="516.4" y="868.7">Apr</text>
  <text x="575.3" y="868.7">May</text>
  <text x="640.6" y="868.7">Jun</text>
  <text x="699.7" y="868.7">Jul</text>
  <text x="759.2" y="868.7">Aug</text>
  <text x="818.5" y="868.7">Sep</text>
  <text x="877.8" y="868.7">Oct</text>
  <text x="942.5" y="868.7">Nov</text>
  <text x="1001.8" y="868.7">Dec</text>
  <text x="1061.4" y="868.7" font-weight="bold">2026</text>
  <text x="1180" y="868.7">Mar</text>
  <text x="1239.3" y="868.7">Apr</text>
  <text x="1298.7" y="868.7">May</text>
  <text x="1363.6" y="868.7">Jun</text>
  <text x="1423" y="868.7">Jul</text>
  <text x="1480" y="868.7">Aug</text>
</g>
<line x1="1556.7" y1="30.4" x2="1556.7" y2="879.3" stroke="#3a3a3a" stroke-width="0.8"/>
<line x1="11.3" y1="879.3" x2="1556.7" y2="879.3" stroke="#6a625a" stroke-width="0.8"/>

<path d="M13.7,904.6 H27.6 V921.6 H20.8 V910.8 H13.7 Z" fill="#dadada"/>
<circle cx="32.4" cy="907.7" r="2.9" fill="#dadada"/>
<polygon points="37.2,904.6 47.2,904.6 39.6,921.6 29.6,921.6" fill="#dadada"/>
<text x="55.2" y="921.6" font-size="23.5" font-weight="bold" fill="#dadada" textLength="136.5" lengthAdjust="spacingAndGlyphs">TradingView</text>
</svg>
</body>
</html>
